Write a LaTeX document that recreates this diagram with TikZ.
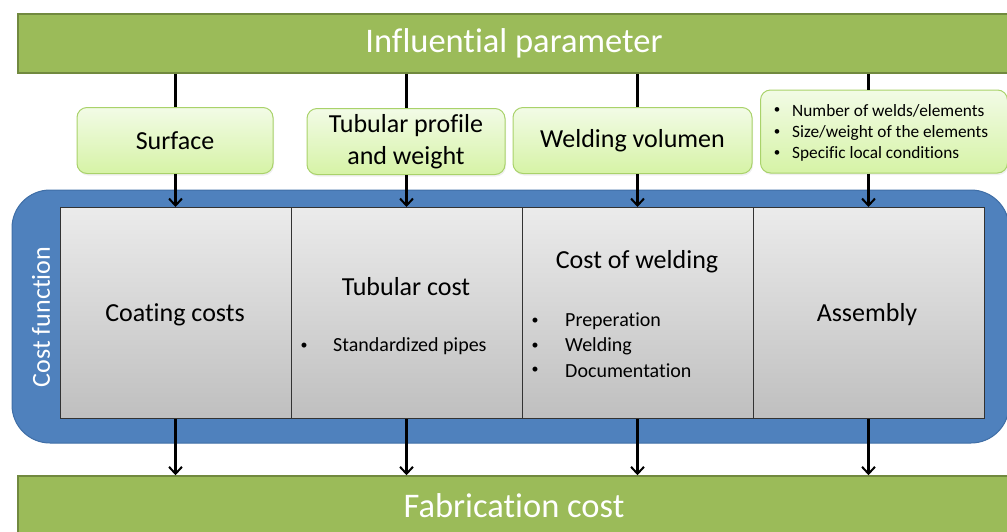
\documentclass[tikz,border=0pt]{standalone}
\usepackage{fontspec}
\setmainfont{Carlito}[RawFeature={-liga;-clig;-calt;-dlig}]
\usetikzlibrary{arrows.meta,shadows}
\definecolor{barGreen}{HTML}{9BBB59}
\definecolor{barGreenEdge}{HTML}{71893F}
\definecolor{lightTop}{HTML}{F2FBE6}
\definecolor{lightBot}{HTML}{D6F3A6}
\definecolor{lightEdge}{HTML}{A9D26A}
\definecolor{blueFill}{HTML}{4F81BD}
\definecolor{blueEdge}{HTML}{3F6EA6}
\definecolor{grayTop}{HTML}{EBEBEB}
\definecolor{grayBot}{HTML}{BFBFBF}
\tikzset{
  greenbar/.style={draw=barGreenEdge, line width=1.5pt, fill=barGreen, text=white,
    minimum width=992pt, inner sep=0pt, font=\fontsize{34.5}{38}\selectfont},
  lightbox/.style={draw=lightEdge, line width=1pt, rounded corners=10pt,
    top color=lightTop, bottom color=lightBot, inner sep=0pt, align=center,
    drop shadow={opacity=0.12, shadow xshift=1pt, shadow yshift=-2pt},
    font=\fontsize{26}{32}\selectfont},
  cell/.style={draw=black!80, line width=1pt, top color=grayTop, bottom color=grayBot,
    minimum width=231pt, minimum height=211pt, inner sep=0pt},
  celltitle/.style={font=\fontsize{26}{30}\selectfont, inner sep=0pt},
  celltext/.style={font=\fontsize{20}{24.5}\selectfont, inner sep=0pt, anchor=west},
  bul/.style={font=\fontsize{14}{24.5}\selectfont, inner sep=0pt},
  smalltext/.style={font=\fontsize{17.3}{21.5}\selectfont, inner sep=0pt, anchor=west},
  smallbul/.style={font=\fontsize{13}{21.5}\selectfont, inner sep=0pt},
  arr/.style={draw=black, line width=2.3pt, -{Straight Barb[length=7pt,width=13pt,line width=2pt]}}
}
\begin{document}
\begin{tikzpicture}[x=1pt,y=-1pt]
\useasboundingbox (0,0) rectangle (1007,531);
% bars
\node[greenbar, minimum height=59pt] (top) at (514,43.5) {Influential parameter};
\node[greenbar, minimum height=60pt] (bottom) at (514,506) {Fabrication cost};
% blue frame
\draw[blueEdge, line width=1pt, fill=blueFill, rounded corners=38pt] (12,190) rectangle (1009,443);
\node[text=white, rotate=90, font=\fontsize{26}{30}\selectfont, inner sep=0pt] (cf) at (41,317) {Cost function};
% cells
\node[cell] (c1) at (175.5,313) {};
\node[cell] (c2) at (406.5,313) {};
\node[cell] (c3) at (637.5,313) {};
\node[cell] (c4) at (868.5,313) {};
% cell texts
\node[celltitle] (t1) at (175,315) {Coating costs};
\node[celltitle] (t2) at (406,287) {Tubular cost};
\node[bul] (b2) at (304,346) {•};
\node[celltext] (s2) at (333,346) {Standardized pipes};
\node[celltitle] (t3) at (637,262) {Cost of welding};
\node[bul] (b31) at (535,321) {•};
\node[bul] (b32) at (535,346) {•};
\node[bul] (b33) at (535,370.5) {•};
\node[celltext] (s31) at (565,321) {Preperation};
\node[celltext] (s32) at (565,346) {Welding};
\node[celltext] (s33) at (565,370.5) {Documentation};
\node[celltitle] (t4) at (867,315) {Assembly};
% light boxes
\node[lightbox, minimum width=196pt, minimum height=66pt] (p1) at (175,140.5) {Surface};
\node[lightbox, minimum width=198pt, minimum height=66pt] (p2) at (406,141.5) {Tubular profile\\and weight};
\node[lightbox, minimum width=239pt, minimum height=66pt] (p3) at (632.5,140.5) {Welding volumen};
\node[lightbox, minimum width=247pt, minimum height=83pt] (p4) at (884,131.5) {};
\node[smallbul] (q1) at (777,111) {•};
\node[smallbul] (q2) at (777,132.5) {•};
\node[smallbul] (q3) at (777,154) {•};
\node[smalltext] (r1) at (792,111) {Number of welds/elements};
\node[smalltext] (r2) at (792,132.5) {Size/weight of the elements};
\node[smalltext] (r3) at (792,154) {Specific local conditions};
% arrows top -> parameter boxes
\draw[line width=2.3pt] (c1 |- top.south) -- (c1 |- p1.north);
\draw[line width=2.3pt] (c2 |- top.south) -- (c2 |- p2.north);
\draw[line width=2.3pt] (c3 |- top.south) -- (c3 |- p3.north);
\draw[line width=2.3pt] (c4 |- top.south) -- (c4 |- p4.north);
% parameter boxes -> cells
\draw[arr] (c1 |- p1.south) -- (c1.north);
\draw[arr] (c2 |- p2.south) -- (c2.north);
\draw[arr] (c3 |- p3.south) -- (c3.north);
\draw[arr] (c4 |- p4.south) -- (c4.north);
% cells -> bottom
\draw[arr] (c1.south) -- (c1 |- bottom.north);
\draw[arr] (c2.south) -- (c2 |- bottom.north);
\draw[arr] (c3.south) -- (c3 |- bottom.north);
\draw[arr] (c4.south) -- (c4 |- bottom.north);
\end{tikzpicture}
\end{document}
